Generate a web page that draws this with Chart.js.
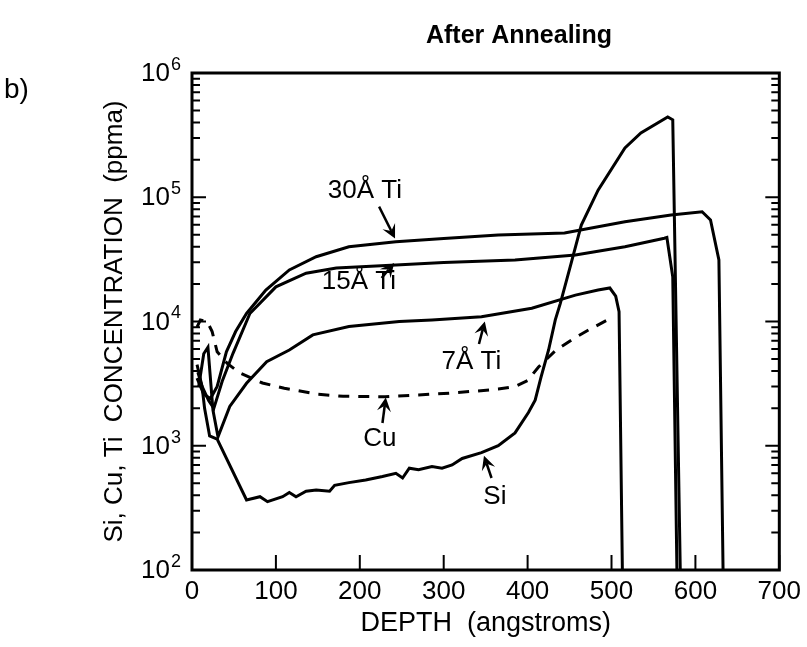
<!DOCTYPE html>
<html>
<head>
<meta charset="utf-8">
<script src="https://cdn.jsdelivr.net/npm/chart.js@4.4.0/dist/chart.umd.min.js"></script>
<style>
  html, body { margin: 0; padding: 0; background: #fff; }
  #wrap { width: 807px; height: 647px; }
</style>
</head>
<body>
<div id="wrap"><canvas id="chart"></canvas></div>
<script>
// depth in angstroms, concentration in ppma
const ti30Depth = [6, 14, 22, 30, 41, 52, 65, 88, 116, 148, 187, 243, 300, 365, 444, 516, 571, 608, 618, 628, 633];
const ti30Conc  = [3500, 2600, 2400, 3000, 5700, 8300, 11600, 17900, 26000, 33200, 40000, 43900, 46500, 49600, 51500, 63600, 71900, 76500, 65700, 31300, 95];

const ti15Depth = [6, 12, 20, 26, 36, 49, 69, 100, 136, 172, 243, 300, 385, 457, 516, 563, 566, 573, 578];
const ti15Conc  = [4500, 3000, 2300, 2000, 3300, 5570, 11600, 19000, 24500, 26900, 28500, 29800, 31300, 34300, 40000, 46800, 47500, 22900, 95];

const ti7Depth = [8, 14, 19, 25, 31, 45, 65, 89, 116, 144, 187, 247, 286, 345, 405, 457, 484, 498, 505, 509, 513];
const ti7Conc  = [3000, 5500, 6200, 1930, 1180, 2070, 3180, 4750, 5900, 7800, 9100, 10000, 10300, 10900, 12800, 16300, 17900, 18600, 16000, 12000, 95];

const cuDepth = [6, 10, 18, 24, 30, 42, 57, 84, 110, 150, 180, 230, 270, 310, 340, 365, 385, 400, 413, 434, 455, 472, 500];
const cuConc  = [9000, 10300, 10000, 8300, 5700, 4600, 3850, 3200, 2900, 2600, 2500, 2480, 2560, 2660, 2760, 2860, 3000, 3350, 4300, 5900, 7300, 8500, 10700];

const siDepth = [7, 12, 15, 21, 30, 65, 81, 90, 108, 116, 124, 136, 148, 164, 170, 187, 207, 227, 243, 251, 259, 270, 286, 298, 310, 322, 345, 365, 385, 401, 409, 416, 425, 433, 439, 452, 464, 484, 516, 535, 567, 573, 582];
const siConc  = [3900, 3000, 2000, 1200, 1130, 366, 389, 355, 389, 420, 389, 430, 440, 430, 480, 505, 530, 565, 600, 550, 660, 640, 680, 660, 700, 790, 880, 1000, 1270, 1850, 2330, 3560, 5900, 10300, 14000, 29600, 59800, 114000, 249000, 329000, 443000, 420000, 95];

const xTicks = [0, 100, 200, 300, 400, 500, 600, 700];
const yDecades = [2, 3, 4, 5, 6];

// curve labels with their arrows (data units)
const noteText  = ['30\u00C5 Ti', '15\u00C5 Ti', '7\u00C5 Ti', 'Cu', 'Si'];
const noteX     = [206, 199, 333, 224, 361];
const noteY     = [112000, 20800, 4720, 1130, 387];
const tailX     = [223, 226, 342, 227, 357];
const tailY     = [84000, 22400, 6590, 1525, 550];
const headX     = [242, 241, 349, 231, 348];
const headY     = [46500, 29500, 10000, 2450, 830];

const FONT = "'Liberation Sans', Arial, Helvetica, sans-serif";

function pairs(xs, ys) {
  return xs.map((x, i) => ({ x: x, y: ys[i] }));
}

// y ticks: 1..9 x 10^n between 10^2 and 10^6
const yTickValues = [];
for (let e = 2; e < 6; e++) {
  for (let m = 1; m < 10; m++) yTickValues.push(m * Math.pow(10, e));
}
yTickValues.push(1e6);

function isDecade(v) {
  const l = Math.log10(v);
  return Math.abs(l - Math.round(l)) < 1e-9;
}

const curveStyle = { borderColor: '#000', borderWidth: 3, pointRadius: 0, fill: false, tension: 0 };

const extras = {
  id: 'extras',
  afterDatasetsDraw(chart) {
    const { ctx, chartArea: a, scales: { x, y } } = chart;
    ctx.save();
    ctx.strokeStyle = '#000';
    ctx.fillStyle = '#000';

    // inward tick marks
    ctx.lineWidth = 2;
    yTickValues.forEach(v => {
      const py = y.getPixelForValue(v);
      const len = isDecade(v) ? 14 : 8;
      ctx.beginPath();
      ctx.moveTo(a.left, py); ctx.lineTo(a.left + len, py);
      ctx.moveTo(a.right, py); ctx.lineTo(a.right - len, py);
      ctx.stroke();
    });
    xTicks.forEach(v => {
      const px = x.getPixelForValue(v);
      ctx.beginPath();
      ctx.moveTo(px, a.bottom); ctx.lineTo(px, a.bottom - 15);
      ctx.stroke();
    });

    // frame
    ctx.lineWidth = 3;
    ctx.strokeRect(a.left, a.top, a.right - a.left, a.bottom - a.top);

    // decade labels 10^n
    yDecades.forEach(e => {
      const py = y.getPixelForValue(Math.pow(10, e));
      ctx.textBaseline = 'middle';
      ctx.textAlign = 'right';
      ctx.font = '26px ' + FONT;
      ctx.fillText('10', a.left - 22, py + 1);
      ctx.textAlign = 'left';
      ctx.font = '18px ' + FONT;
      ctx.fillText(String(e), a.left - 21, py - 8);
    });

    // curve labels and arrows
    ctx.font = '26px ' + FONT;
    ctx.textAlign = 'center';
    ctx.textBaseline = 'middle';
    noteText.forEach((t, i) => {
      ctx.fillText(t, x.getPixelForValue(noteX[i]), y.getPixelForValue(noteY[i]));
      const x0 = x.getPixelForValue(tailX[i]), y0 = y.getPixelForValue(tailY[i]);
      const x1 = x.getPixelForValue(headX[i]), y1 = y.getPixelForValue(headY[i]);
      const ang = Math.atan2(y1 - y0, x1 - x0);
      const hl = 14, hw = 7;
      ctx.lineWidth = 2.5;
      ctx.beginPath();
      ctx.moveTo(x0, y0);
      ctx.lineTo(x1 - Math.cos(ang) * hl * 0.6, y1 - Math.sin(ang) * hl * 0.6);
      ctx.stroke();
      ctx.beginPath();
      ctx.moveTo(x1, y1);
      ctx.lineTo(x1 - Math.cos(ang) * hl - Math.sin(ang) * hw, y1 - Math.sin(ang) * hl + Math.cos(ang) * hw);
      ctx.lineTo(x1 - Math.cos(ang) * hl * 0.6, y1 - Math.sin(ang) * hl * 0.6);
      ctx.lineTo(x1 - Math.cos(ang) * hl + Math.sin(ang) * hw, y1 - Math.sin(ang) * hl - Math.cos(ang) * hw);
      ctx.closePath();
      ctx.fill();
    });

    // heading and panel letter
    ctx.font = 'bold 25px ' + FONT;
    ctx.fillText('After Annealing', 519, 36);
    ctx.font = '28px ' + FONT;
    ctx.textAlign = 'left';
    ctx.fillText('b)', 4, 90);
    ctx.restore();
  }
};

new Chart(document.getElementById('chart'), {
  type: 'line',
  data: {
    datasets: [
      Object.assign({ label: '30\u00C5 Ti', data: pairs(ti30Depth, ti30Conc) }, curveStyle),
      Object.assign({ label: '15\u00C5 Ti', data: pairs(ti15Depth, ti15Conc) }, curveStyle),
      Object.assign({ label: '7\u00C5 Ti', data: pairs(ti7Depth, ti7Conc) }, curveStyle),
      Object.assign({ label: 'Si', data: pairs(siDepth, siConc) }, curveStyle),
      Object.assign({ label: 'Cu', data: pairs(cuDepth, cuConc) }, curveStyle, { borderDash: [11, 9] })
    ]
  },
  options: {
    responsive: true,
    maintainAspectRatio: false,
    animation: false,
    layout: { padding: { top: 73, right: 25, left: 0, bottom: 0 } },
    plugins: { legend: { display: false }, tooltip: { enabled: false } },
    scales: {
      x: {
        type: 'linear',
        min: 0, max: 700,
        grid: { display: false, drawTicks: false },
        border: { display: false },
        afterBuildTicks: s => { s.ticks = xTicks.map(v => ({ value: v })); },
        afterFit: s => { s.height = 77; },
        ticks: { color: '#000', padding: 6, font: { family: FONT, size: 26 } },
        title: {
          display: true, text: 'DEPTH  (angstroms)', color: '#000',
          font: { family: FONT, size: 27 }, padding: { top: 0, bottom: 7 }
        }
      },
      y: {
        type: 'logarithmic',
        min: 100, max: 1e6,
        grid: { display: false, drawTicks: false },
        border: { display: false },
        afterBuildTicks: s => { s.ticks = yTickValues.map(v => ({ value: v })); },
        afterFit: s => { s.width = 192; },
        ticks: { display: false },
        title: {
          display: true, text: 'Si, Cu, Ti  CONCENTRATION  (ppma)', color: '#000',
          font: { family: FONT, size: 26 }, padding: { top: 99, bottom: 0 }
        }
      }
    }
  },
  plugins: [extras]
});
</script>
</body>
</html>
